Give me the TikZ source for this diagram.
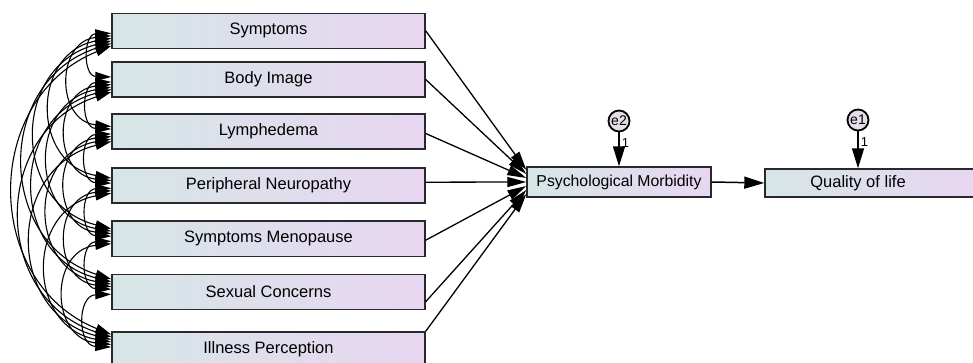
\documentclass[tikz,border=0pt]{standalone}
\usepackage{fontspec}
\setmainfont{Liberation Sans}
\usetikzlibrary{arrows.meta}
\definecolor{boxleft}{RGB}{214,230,230}
\definecolor{boxright}{RGB}{232,214,242}
\definecolor{boxline}{RGB}{40,40,45}
\definecolor{errfill}{RGB}{228,222,232}
\begin{document}
\begin{tikzpicture}[x=1pt,y=-1pt,
  varbox/.style={draw=boxline, line width=1.4pt, left color=boxleft, right color=boxright,
    minimum width=313pt, minimum height=35pt, inner sep=0pt,
    font=\fontsize{16.5}{19}\selectfont},
  errnode/.style={circle, draw=black, line width=1.8pt, fill=errfill, minimum size=21pt, inner sep=0pt,
    font=\fontsize{14}{16}\selectfont},
  path/.style={line width=1.3pt, -{Triangle[length=19pt,width=10pt]}},
  bigpath/.style={line width=1.5pt, -{Triangle[length=20pt,width=12pt]}},
  cov/.style={line width=1.1pt, {Triangle[length=16pt,width=9pt]}-{Triangle[length=16pt,width=9pt]}},
  one/.style={font=\fontsize{13}{15}\selectfont, inner sep=2pt}
]
\useasboundingbox (0,0) rectangle (973,363);

% predictors
\node[varbox] (b1) at (268.5,30.8) {Symptoms};
\node[varbox] (b2) at (268.5,79.5) {Body Image};
\node[varbox] (b3) at (268.5,131.5) {Lymphedema};
\node[varbox] (b4) at (268.5,185.7) {Peripheral Neuropathy};
\node[varbox] (b5) at (268.5,238.7) {Symptoms Menopause};
\node[varbox] (b6) at (268.5,291.7) {Sexual Concerns};
\node[varbox] (b7) at (268.5,349.5) {Illness Perception};

% mediator and outcome
\node[varbox, minimum width=184pt, minimum height=30pt, font=\fontsize{15.8}{19}\selectfont] (pm) at (619,182) {Psychological Morbidity};
\node[varbox, minimum width=210pt, minimum height=28pt] (qol) at (870,183) {\hspace*{-24pt}Quality of life};

% errors
\node[errnode] (e2) at (619,121) {e2};
\node[errnode] (e1) at (858,120) {e1};

\draw[bigpath] (e2) -- node[one, pos=0.3, right] {1} (pm.north);
\draw[bigpath] (e1) -- node[one, pos=0.3, right] {1} ([xshift=-12pt]qol.north);
\draw[bigpath] (pm.east) -- (qol.west);

% paths into psychological morbidity
\draw[path] (b1.east) -- ([yshift=12pt]pm.west);
\draw[path] (b2.east) -- ([yshift=8pt]pm.west);
\draw[path] ([yshift=-2pt]b3.east) -- ([yshift=4pt]pm.west);
\draw[path] ([yshift=3.5pt]b4.east) -- (pm.west);
\draw[path] ([yshift=-1.5pt]b5.east) -- ([yshift=-4pt]pm.west);
\draw[path] ([yshift=-10pt]b6.east) -- ([yshift=-8pt]pm.west);
\draw[path] (b7.north east) -- ([yshift=-12pt]pm.west);

% covariances
\foreach \i in {1,...,6}{
  \pgfmathtruncatemacro{\s}{\i+1}
  \foreach \j in {\s,...,7}{
    \pgfmathtruncatemacro{\k}{\j-\i}
    \pgfmathsetmacro{\ang}{92-4*\k}
    \pgfmathsetmacro{\loo}{1.75-0.085*\k}
    \pgfmathsetmacro{\oi}{\k*2.5}
    \draw[cov] ([yshift=-\oi pt]b\i.west) to[bend right=\ang, looseness=\loo] ([yshift=\oi pt]b\j.west);
  }
}
\end{tikzpicture}
\end{document}
